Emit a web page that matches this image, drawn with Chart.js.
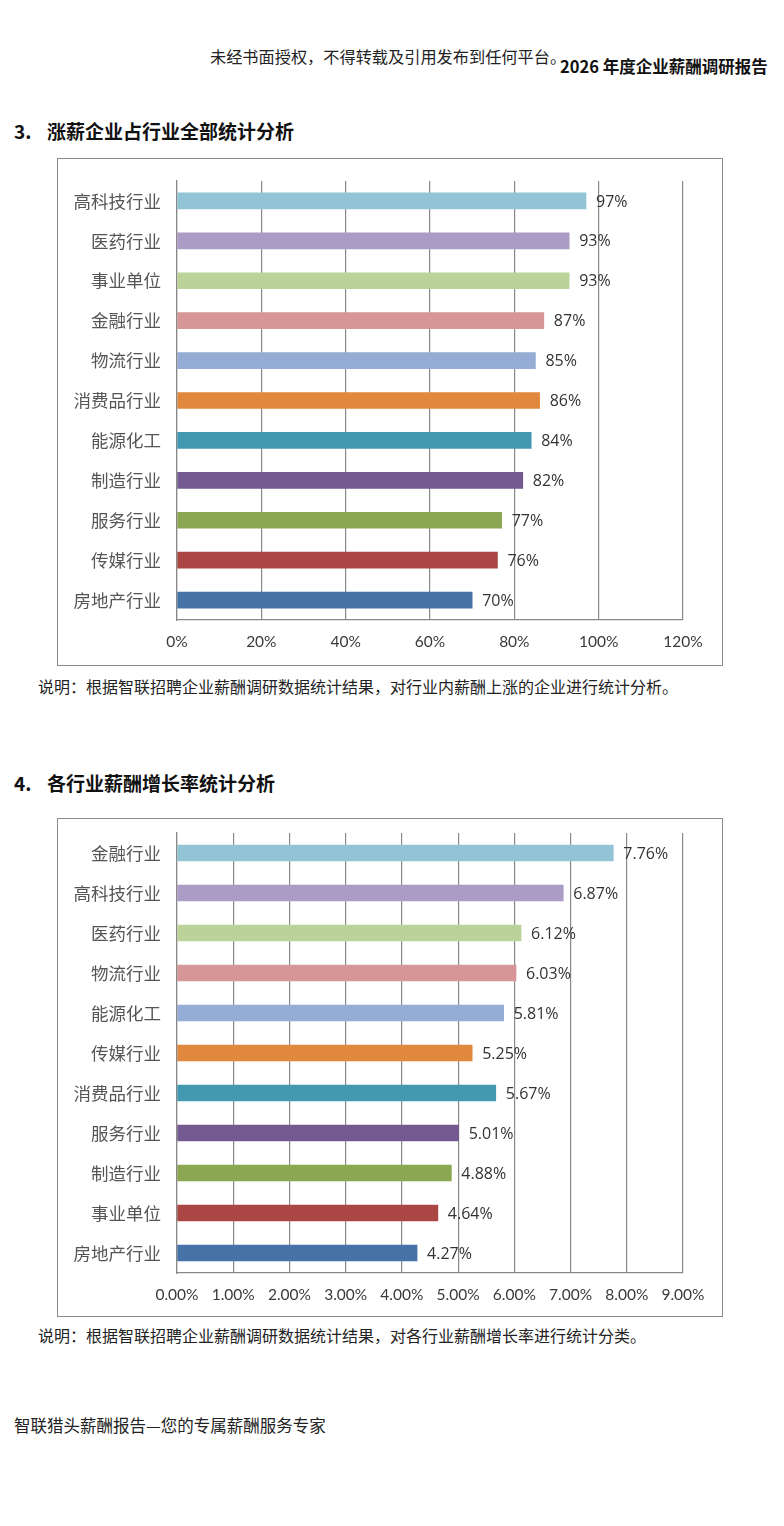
<!DOCTYPE html>
<html>
<head>
<meta charset="utf-8">
<script src="https://cdn.jsdelivr.net/npm/chart.js@4/dist/chart.umd.min.js"></script>
<style>
  body { margin: 0; background: #fff; width: 784px; height: 1526px; position: relative;
         font-family: "Noto Sans CJK SC", sans-serif; color: #111; }
  .txt { position: absolute; white-space: nowrap; line-height: 1; }
  .box { position: absolute; border: 1.5px solid #8c8c8c; box-sizing: border-box; background: #fff; }
  .box canvas { position: absolute; left: 0; top: 0; }
</style>
</head>
<body>

<div class="txt" style="left:210px; top:48px; font-size:16.2px; color:#222;">未经书面授权，不得转载及引用发布到任何平台。</div>
<div class="txt" style="left:560px; top:58px; font-size:16.5px; font-weight:bold;">2026 年度企业薪酬调研报告</div>

<div class="txt" style="left:14px; top:121px; font-size:19px; font-weight:bold;">3.</div>
<div class="txt" style="left:47px; top:121px; font-size:19px; font-weight:bold;">涨薪企业占行业全部统计分析</div>
<div class="box" style="left:57px; top:158px; width:666px; height:508px;">
  <canvas id="chart1" width="663" height="505"></canvas>
</div>
<div class="txt" style="left:38px; top:678px; font-size:16px; color:#222;">说明：根据智联招聘企业薪酬调研数据统计结果，对行业内薪酬上涨的企业进行统计分析。</div>

<div class="txt" style="left:14px; top:773px; font-size:19px; font-weight:bold;">4.</div>
<div class="txt" style="left:47px; top:773px; font-size:19px; font-weight:bold;">各行业薪酬增长率统计分析</div>
<div class="box" style="left:57px; top:818px; width:666px; height:499px;">
  <canvas id="chart2" width="663" height="496"></canvas>
</div>
<div class="txt" style="left:38px; top:1327px; font-size:16px; color:#222;">说明：根据智联招聘企业薪酬调研数据统计结果，对各行业薪酬增长率进行统计分类。</div>

<div class="txt" style="left:14px; top:1417px; font-size:16.5px; color:#222;">智联猎头薪酬报告—您的专属薪酬服务专家</div>

<script>
// 图1：涨薪企业占行业全部比例 (%)
const raiseCategories = ['高科技行业', '医药行业', '事业单位', '金融行业', '物流行业', '消费品行业',
                         '能源化工', '制造行业', '服务行业', '传媒行业', '房地产行业'];
const raiseValues = [97, 93, 93, 87, 85, 86, 84, 82, 77, 76, 70];
const raiseTicks = [0, 20, 40, 60, 80, 100, 120];

// 图2：各行业薪酬增长率 (%)
const growthCategories = ['金融行业', '高科技行业', '医药行业', '物流行业', '能源化工', '传媒行业',
                          '消费品行业', '服务行业', '制造行业', '事业单位', '房地产行业'];
const growthValues = [7.76, 6.87, 6.12, 6.03, 5.81, 5.25, 5.67, 5.01, 4.88, 4.64, 4.27];
const growthTicks = [0, 1, 2, 3, 4, 5, 6, 7, 8, 9];

// bar colours, top to bottom
const barColors = ['#93c4d6', '#aa9cc5', '#bcd29b', '#d69697', '#95add4', '#e0883d',
                   '#4299b0', '#735a90', '#8ca752', '#aa4744', '#4672a8'];

const gridColor = '#888';

// 条形末端的数值标签
const valueLabels = {
  id: 'valueLabels',
  afterDatasetsDraw(chart, args, opts) {
    const ctx = chart.ctx;
    const meta = chart.getDatasetMeta(0);
    ctx.save();
    ctx.font = '16px "Open Sans", sans-serif';
    ctx.fillStyle = '#333';
    ctx.textAlign = 'left';
    ctx.textBaseline = 'middle';
    meta.data.forEach((bar, i) => {
      const v = chart.data.datasets[0].data[i];
      ctx.fillText(opts.format(v), bar.x + 10, bar.y + 1);
    });
    ctx.restore();
  }
};

function makeChart(id, labels, values, ticks, fmt, topPad, plotHeight) {
  return new Chart(document.getElementById(id), {
    type: 'bar',
    data: {
      labels: labels,
      datasets: [{
        data: values,
        backgroundColor: barColors,
        barThickness: 16
      }]
    },
    options: {
      indexAxis: 'y',
      responsive: false,
      animation: false,
      layout: { padding: { top: topPad, right: 38, left: 0, bottom: 0 } },
      plugins: {
        legend: { display: false },
        tooltip: { enabled: false },
        valueLabels: { format: fmt }
      },
      scales: {
        x: {
          min: ticks[0],
          max: ticks[ticks.length - 1],
          afterBuildTicks(scale) { scale.ticks = ticks.map(v => ({ value: v })); },
          afterFit(scale) { scale.height = plotHeight; },
          grid: { color: gridColor, lineWidth: 1.2, drawTicks: false },
          border: { display: true, color: gridColor, width: 1.2 },
          ticks: {
            padding: 13,
            color: '#3a3a3a',
            font: { family: 'Lato, "Open Sans", sans-serif', size: 15.5 },
            callback: v => fmt(v)
          }
        },
        y: {
          afterFit(scale) {
            scale.width = 119;
            // keep the label padding from pushing the plot area down
            scale.paddingTop = 0;
            scale.paddingBottom = 0;
          },
          grid: { display: false, drawTicks: false },
          border: { display: true, color: gridColor, width: 1.2 },
          ticks: {
            padding: 16,
            color: '#555',
            font: { family: '"Noto Sans CJK SC", sans-serif', size: 17.5 }
          }
        }
      }
    },
    plugins: [valueLabels]
  });
}

makeChart('chart1', raiseCategories, raiseValues, raiseTicks, v => v + '%', 22, 44);
makeChart('chart2', growthCategories, growthValues, growthTicks, v => v.toFixed(2) + '%', 14, 42);
</script>
</body>
</html>
